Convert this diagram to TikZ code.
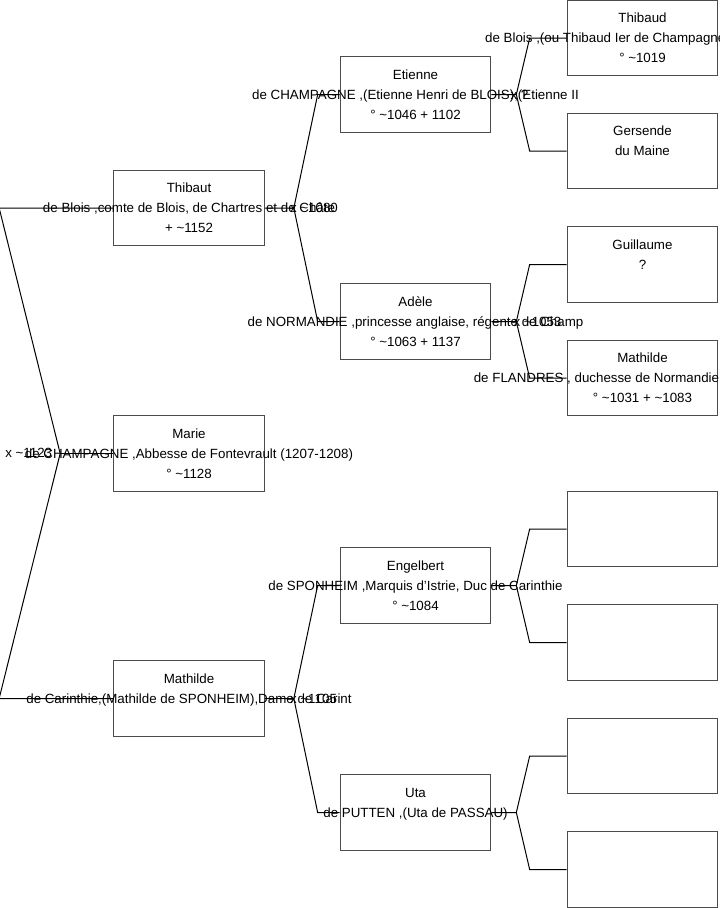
\documentclass[tikz,border=0pt]{standalone}
\usepackage{fontspec}
\setmainfont{Liberation Sans}
\usetikzlibrary{positioning, calc}
\newcommand{\abt}{\textasciitilde}

\begin{document}
\begin{tikzpicture}[x=0.75pt, y=-0.75pt,
    person/.style={draw=black!70, line width=0.75pt, minimum width=113pt, minimum height=56.5pt, inner sep=0pt},
    info/.style={align=center, font=\fontsize{10}{15}\selectfont, inner sep=0pt},
    wed/.style={anchor=west, font=\fontsize{10}{15}\selectfont, inner sep=0pt},
    link/.style={line width=0.75pt}]
    % Fix the frame
    \useasboundingbox (0,0) rectangle (719,908);

    % Draw first column
    \node[person] (thibaut) at (189,208) {};
    \node[person] (marie) at (189,453.5) {};
    \node[person] (mathilde) at (189,698.5) {};

    % Draw second column
    \node[person] (etienne) at (415.5,94.5) {};
    \node[person] (adele) at (415.5,321.5) {};
    \node[person] (engelbert) at (415.5,585.5) {};
    \node[person] (uta) at (415.5,812.5) {};

    % Draw third column
    \node[person] (thibaud) at (642.5,38) {};
    \node[person] (gersende) at (642.5,151) {};
    \node[person] (guillaume) at (642.5,264.5) {};
    \node[person] (mathildeF) at (642.5,378) {};
    \node[person] (sponheimA) at (642.5,529) {};
    \node[person] (sponheimB) at (642.5,642.5) {};
    \node[person] (puttenA) at (642.5,756) {};
    \node[person] (puttenB) at (642.5,869.5) {};

    % Add texts
    \node[info] (thibautT) at (thibaut) {Thibaut\\de Blois ,comte de Blois, de Chartres et de Châte\\+ \abt1152};
    \node[info] (marieT) at (marie) {Marie\\de CHAMPAGNE ,Abbesse de Fontevrault (1207-1208)\\° \abt1128};
    \node[info] (mathildeT) at (mathilde) {Mathilde\\de Carinthie,(Mathilde de SPONHEIM),Dame de Carint\\\mbox{}};
    \node[info] (etienneT) at (etienne) {Etienne\\de CHAMPAGNE ,(Etienne Henri de BLOIS),(Etienne II\\° \abt1046 + 1102};
    \node[info] (adeleT) at (adele) {Adèle\\de NORMANDIE ,princesse anglaise, régente de Champ\\° \abt1063 + 1137};
    \node[info] (engelbertT) at (engelbert) {Engelbert\\de SPONHEIM ,Marquis d'Istrie, Duc de Carinthie\\° \abt1084};
    \node[info] (utaT) at (uta) {Uta\\de PUTTEN ,(Uta de PASSAU)\\\mbox{}};
    \node[info] (thibaudT) at (thibaud) {Thibaud\\\makebox[236pt][l]{de Blois ,(ou Thibaud Ier de Champagne}\\° \abt1019};
    \node[info] (gersendeT) at (gersende) {Gersende\\du Maine\\\mbox{}};
    \node[info] (guillaumeT) at (guillaume) {Guillaume\\?\\\mbox{}};
    \node[info] (mathildeFT) at (mathildeF) {Mathilde\\\makebox[253pt][l]{de FLANDRES , duchesse de Normandie}\\° \abt1031 + \abt1083};

    % Left bracket
    \coordinate (kThibaut) at ($(thibaut.west)+(-114,0)$);
    \coordinate (kMathilde) at ($(mathilde.west)+(-114,0)$);
    \coordinate (jMarie) at ($(marie.west)+(-53,0)$);
    \draw[link] (thibaut.west) -- (kThibaut) -- (jMarie) -- (kMathilde) -- (mathilde.west);
    \draw[link] (jMarie) -- (marie.west);

    % Parents of Thibaut and Mathilde
    \coordinate (jThibaut) at ($(thibaut.east)+(29,0)$);
    \coordinate (jMathilde) at ($(mathilde.east)+(29,0)$);
    \draw[link] (thibaut.east) -- (jThibaut) -- ($(etienne.west)+(-22,0)$) -- (etienne.west);
    \draw[link] (jThibaut) -- ($(adele.west)+(-22,0)$) -- (adele.west);
    \draw[link] (mathilde.east) -- (jMathilde) -- ($(engelbert.west)+(-22,0)$) -- (engelbert.west);
    \draw[link] (jMathilde) -- ($(uta.west)+(-22,0)$) -- (uta.west);

    % Parents of the second column
    \foreach \kid/\pa/\ma in {etienne/thibaud/gersende, adele/guillaume/mathildeF,
                              engelbert/sponheimA/sponheimB, uta/puttenA/puttenB} {
        \coordinate (j\kid) at ($(\kid.east)+(25,0)$);
        \draw[link] (\kid.east) -- (j\kid) -- ($(\pa.west)+(-37,0)$) -- (\pa.west);
        \draw[link] (j\kid) -- ($(\ma.west)+(-37,0)$) -- (\ma.west);
    }

    % Add wedding dates
    \node[wed] (wedMarie) at (5,452.5) {x \abt1123};
    \node[wed] (wedThibaut) at ($(jThibaut)+(-4,0)$) {x \abt1080};
    \node[wed] (wedMathilde) at ($(jMathilde)+(-4,0)$) {x \abt1105};
    \node[wed] (wedEtienne) at ($(jetienne)+(-6,0)$) {x ?};
    \node[wed] (wedAdele) at ($(jadele)+(-3,0)$) {x \abt1053};
\end{tikzpicture}
\end{document}
